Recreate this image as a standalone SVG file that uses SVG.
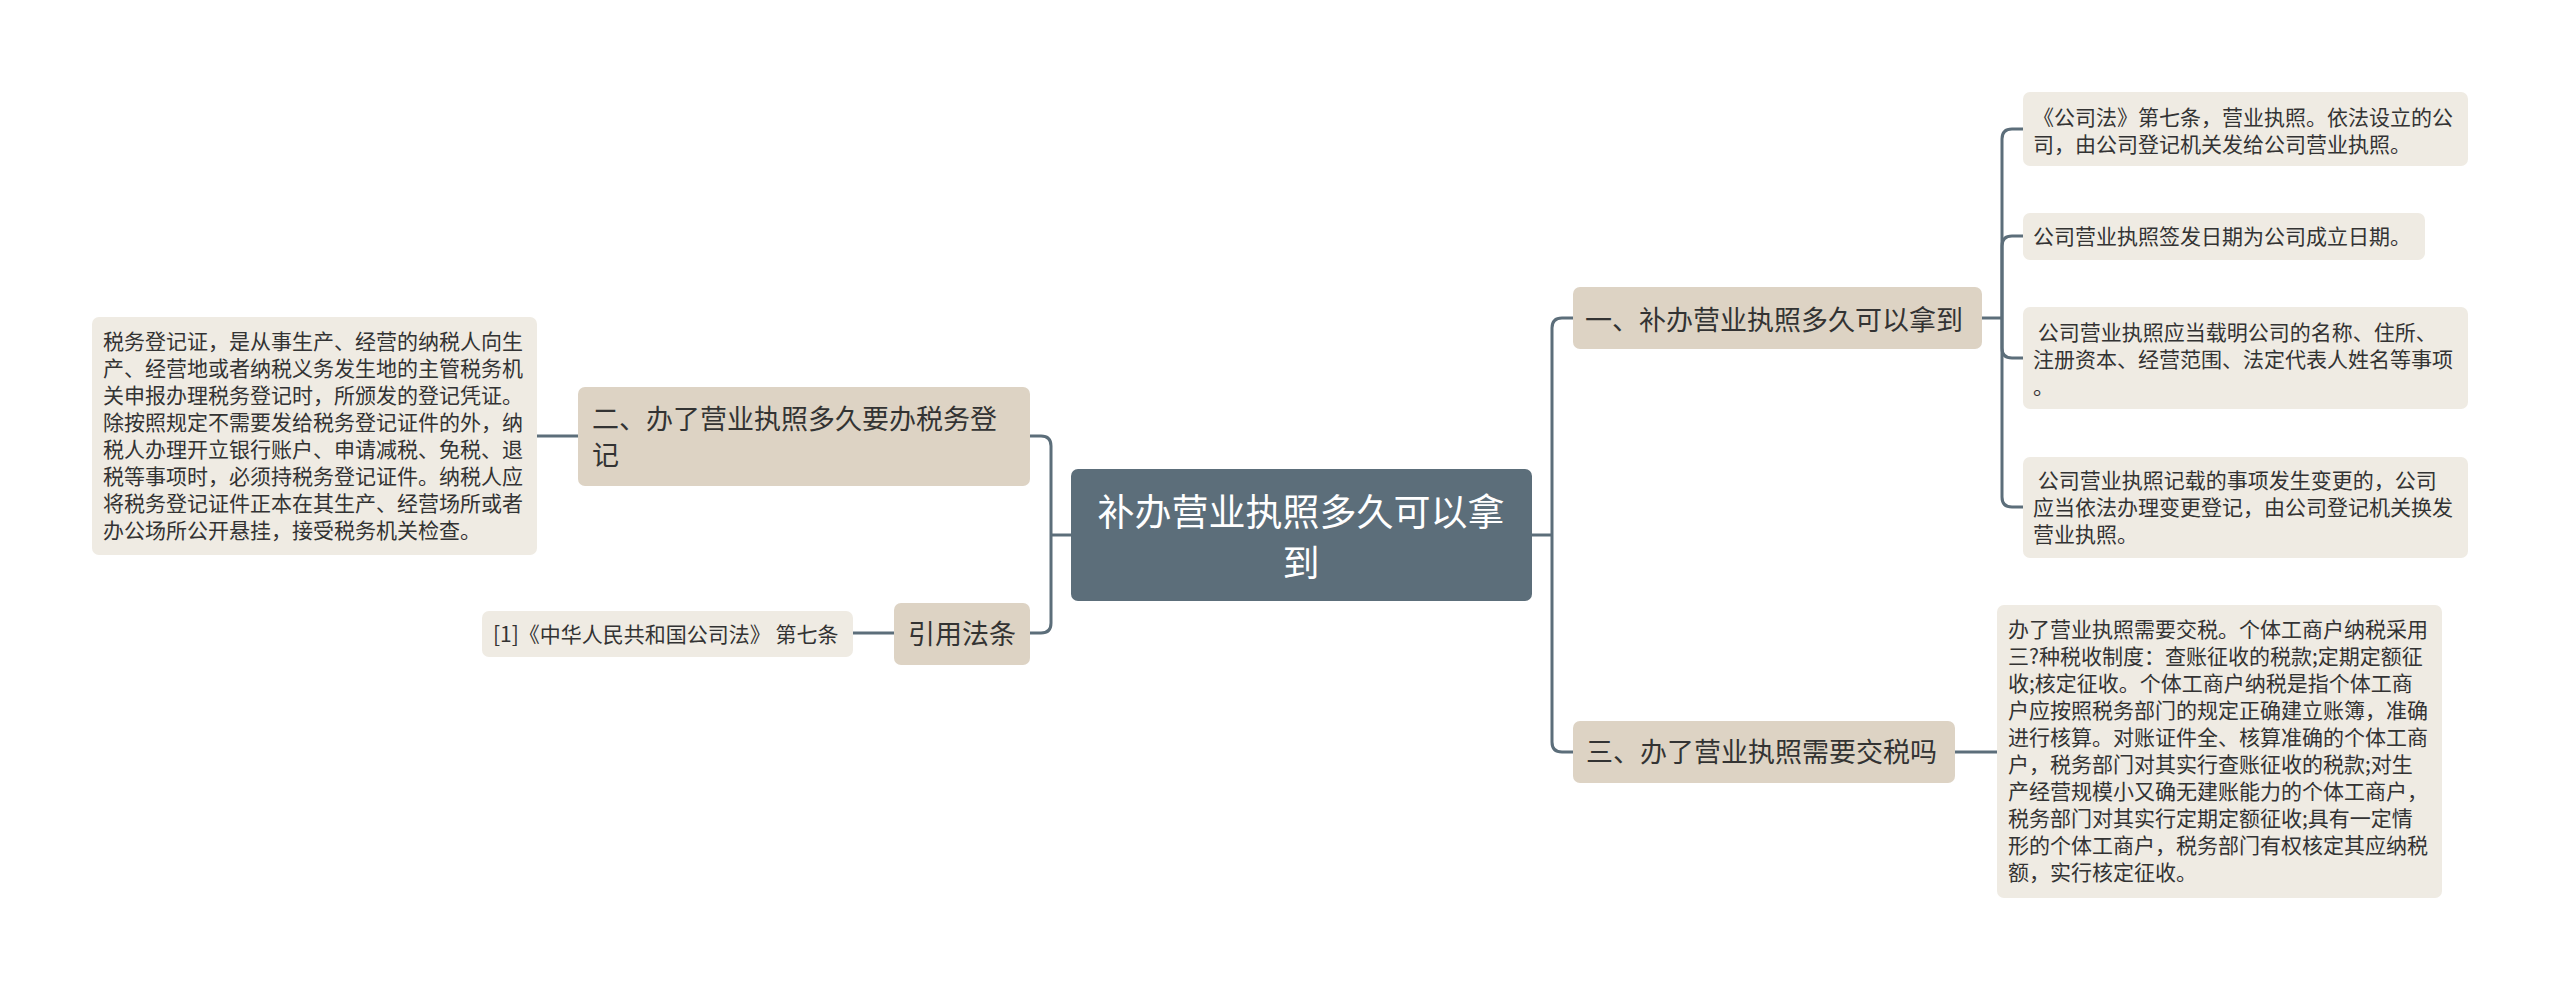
<svg xmlns="http://www.w3.org/2000/svg" width="2560" height="991" viewBox="0 0 2560 991">
<style>
text{font-family:"Noto Sans CJK SC","Noto Sans",sans-serif;fill:#333;}
.root{fill:#5c6e7a;}
.br{fill:#ddd3c4;}
.lf{fill:#efebe3;}
.t0{font-size:37px;fill:#fff;}
.t1{font-size:27px;}
.t2{font-size:21px;}
.c{fill:none;stroke:#5c6e7a;stroke-width:3;}
</style>
<rect width="2560" height="991" fill="#fff"/>
<g id="connectors">
<path class="c" d="M1532,535 H1552"/>
<path class="c" d="M1552,535 V328 Q1552,318 1562,318 H1573"/>
<path class="c" d="M1552,535 V742 Q1552,752 1562,752 H1573"/>
<path class="c" d="M1982,318 H2002"/>
<path class="c" d="M2002,318 V139 Q2002,129 2012,129 H2023"/>
<path class="c" d="M2002,318 V246 Q2002,236 2012,236 H2023"/>
<path class="c" d="M2002,318 V348 Q2002,358 2012,358 H2023"/>
<path class="c" d="M2002,318 V497 Q2002,507 2012,507 H2023"/>
<path class="c" d="M1955,752 H1997"/>
<path class="c" d="M1071,535 H1051"/>
<path class="c" d="M1051,535 V446 Q1051,436 1041,436 H1030"/>
<path class="c" d="M1051,535 V623 Q1051,633 1041,633 H1030"/>
<path class="c" d="M578,436 H537"/>
<path class="c" d="M894,633 H853"/>
</g>
<g id="root">
<rect class="root" x="1071" y="469" width="461" height="132" rx="7"/>
<text class="t0" x="1301" y="526" text-anchor="middle">补办营业执照多久可以拿</text>
<text class="t0" x="1301" y="577" text-anchor="middle">到</text>
</g>
<g id="b1">
<rect class="br" x="1573" y="287" width="409" height="62" rx="7"/>
<text class="t1" x="1585" y="330">一、补办营业执照多久可以拿到</text>
</g>
<g id="l1">
<rect class="lf" x="2023" y="92" width="445" height="74" rx="7"/>
<text class="t2" x="2033" y="125">《公司法》第七条，营业执照。依法设立的公</text>
<text class="t2" x="2033" y="152">司，由公司登记机关发给公司营业执照。</text>
</g>
<g id="l2">
<rect class="lf" x="2023" y="213" width="402" height="47" rx="7"/>
<text class="t2" x="2033" y="244">公司营业执照签发日期为公司成立日期。</text>
</g>
<g id="l3">
<rect class="lf" x="2023" y="307" width="445" height="102" rx="7"/>
<text class="t2" x="2033" y="340" xml:space="preserve"> 公司营业执照应当载明公司的名称、住所、</text>
<text class="t2" x="2033" y="367">注册资本、经营范围、法定代表人姓名等事项</text>
<text class="t2" x="2033" y="394">。</text>
</g>
<g id="l4">
<rect class="lf" x="2023" y="457" width="445" height="101" rx="7"/>
<text class="t2" x="2033" y="488" xml:space="preserve"> 公司营业执照记载的事项发生变更的，公司</text>
<text class="t2" x="2033" y="515">应当依法办理变更登记，由公司登记机关换发</text>
<text class="t2" x="2033" y="542">营业执照。</text>
</g>
<g id="b3">
<rect class="br" x="1573" y="721" width="382" height="62" rx="7"/>
<text class="t1" x="1586" y="762">三、办了营业执照需要交税吗</text>
</g>
<g id="l5">
<rect class="lf" x="1997" y="605" width="445" height="293" rx="7"/>
<text class="t2" x="2008" y="637">办了营业执照需要交税。个体工商户纳税采用</text>
<text class="t2" x="2008" y="664">三?种税收制度：查账征收的税款;定期定额征</text>
<text class="t2" x="2008" y="691">收;核定征收。个体工商户纳税是指个体工商</text>
<text class="t2" x="2008" y="718">户应按照税务部门的规定正确建立账簿，准确</text>
<text class="t2" x="2008" y="745">进行核算。对账证件全、核算准确的个体工商</text>
<text class="t2" x="2008" y="772">户，税务部门对其实行查账征收的税款;对生</text>
<text class="t2" x="2008" y="799">产经营规模小又确无建账能力的个体工商户，</text>
<text class="t2" x="2008" y="826">税务部门对其实行定期定额征收;具有一定情</text>
<text class="t2" x="2008" y="853">形的个体工商户，税务部门有权核定其应纳税</text>
<text class="t2" x="2008" y="880">额，实行核定征收。</text>
</g>
<g id="b2">
<rect class="br" x="578" y="387" width="452" height="99" rx="7"/>
<text class="t1" x="592" y="429">二、办了营业执照多久要办税务登</text>
<text class="t1" x="592" y="465">记</text>
</g>
<g id="l6">
<rect class="lf" x="92" y="317" width="445" height="238" rx="7"/>
<text class="t2" x="103" y="349">税务登记证，是从事生产、经营的纳税人向生</text>
<text class="t2" x="103" y="376">产、经营地或者纳税义务发生地的主管税务机</text>
<text class="t2" x="103" y="403">关申报办理税务登记时，所颁发的登记凭证。</text>
<text class="t2" x="103" y="430">除按照规定不需要发给税务登记证件的外，纳</text>
<text class="t2" x="103" y="457">税人办理开立银行账户、申请减税、免税、退</text>
<text class="t2" x="103" y="484">税等事项时，必须持税务登记证件。纳税人应</text>
<text class="t2" x="103" y="511">将税务登记证件正本在其生产、经营场所或者</text>
<text class="t2" x="103" y="538">办公场所公开悬挂，接受税务机关检查。</text>
</g>
<g id="b4">
<rect class="br" x="894" y="603" width="136" height="62" rx="7"/>
<text class="t1" x="908" y="644">引用法条</text>
</g>
<g id="l7">
<rect class="lf" x="482" y="611" width="371" height="46" rx="7"/>
<text class="t2" x="493" y="642" xml:space="preserve">[1]《中华人民共和国公司法》 第七条</text>
</g>
</svg>
